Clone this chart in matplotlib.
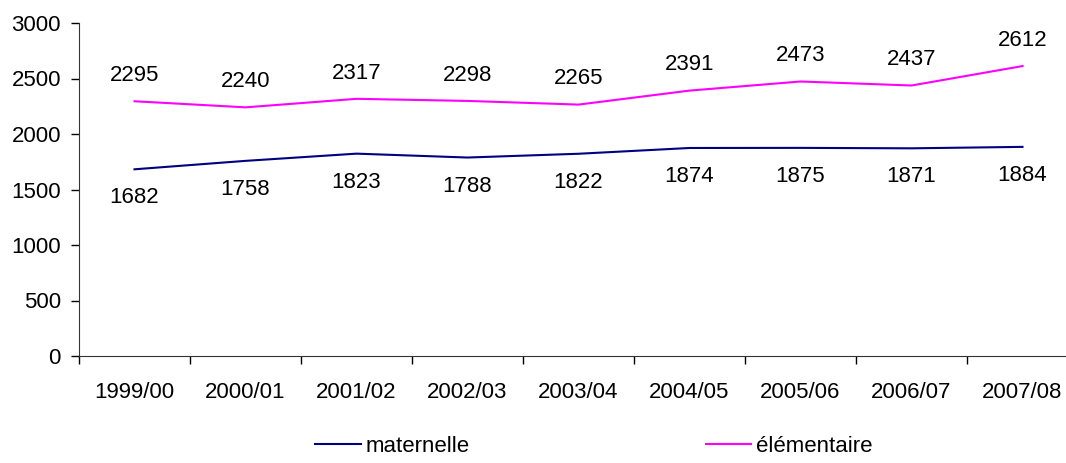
import numpy as np
import matplotlib.pyplot as plt

years = ['1999/00', '2000/01', '2001/02', '2002/03', '2003/04',
         '2004/05', '2005/06', '2006/07', '2007/08']
maternelle = [1682, 1758, 1823, 1788, 1822, 1874, 1875, 1871, 1884]
elementaire = [2295, 2240, 2317, 2298, 2265, 2391, 2473, 2437, 2612]

plt.rcParams['font.family'] = ['Liberation Sans', 'DejaVu Sans']

fig = plt.figure(figsize=(10.66, 4.63), dpi=100)
ax = fig.add_axes([79 / 1066, 1 - 356 / 463, 999 / 1066, 333 / 463])

x = np.arange(len(years))
l1, = ax.plot(x, maternelle, color='#000080', lw=1.5, label='maternelle')
l2, = ax.plot(x, elementaire, color='#FF00FF', lw=1.5, label='élémentaire')

for xi, v in zip(x, maternelle):
    ax.annotate(str(v), (xi, v), xytext=(0, -13), textcoords='offset points',
                ha='center', va='top', fontsize=16)
for xi, v in zip(x, elementaire):
    ax.annotate(str(v), (xi, v), xytext=(0, 11), textcoords='offset points',
                ha='center', va='bottom', fontsize=16)

ax.set_xlim(-0.5, len(years) - 0.5)
ax.set_ylim(0, 3000)
ax.set_yticks(np.arange(0, 3001, 500))
ax.set_xticks(x)
ax.set_xticklabels(years)
ax.set_xticks(np.arange(-0.5, len(years), 1), minor=True)
ax.tick_params(axis='x', which='major', length=0, pad=19, labelsize=16)
ax.tick_params(axis='x', which='minor', length=6, width=1)
ax.tick_params(axis='y', length=6, width=1, pad=7, labelsize=16)

for s in ['top', 'right']:
    ax.spines[s].set_visible(False)
for s in ['left', 'bottom']:
    ax.spines[s].set_color('#333333')

fig.legend(handles=[l1, l2], loc='center', bbox_to_anchor=(594 / 1066, 1 - 446 / 463),
           ncol=2, frameon=False, fontsize=16, handlelength=2.05, handletextpad=0.23,
           columnspacing=10.6)

fig.savefig('out.png', dpi=100)
